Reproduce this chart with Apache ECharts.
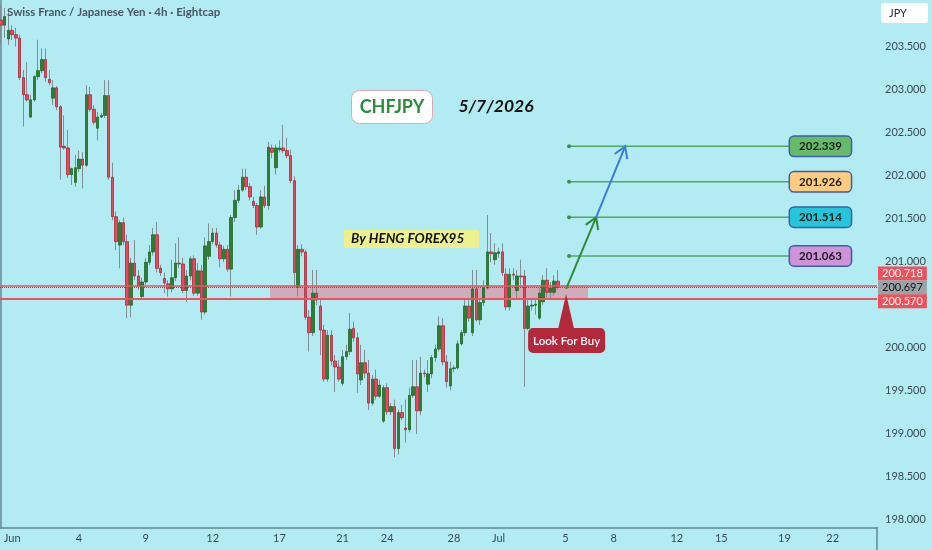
<!DOCTYPE html>
<html><head><meta charset="utf-8">
<script src="https://cdn.jsdelivr.net/npm/echarts@6/dist/echarts.min.js"></script>
<style>html,body{margin:0;padding:0;background:#b2ebf2}#c{width:932px;height:550px}</style>
</head><body><div id="c"></div>
<script>
// ---- data (prices) ----
const opens = [203.81,203.75,203.59,203.69,203.64,203.60,203.14,202.94,202.68,202.88,
203.15,203.22,203.35,203.12,202.90,203.02,202.80,202.34,202.32,202.01,
201.92,202.08,202.19,202.12,202.94,202.77,202.55,202.68,202.70,202.93,
201.98,201.52,201.19,201.45,201.23,200.49,200.98,200.83,200.59,200.76,
200.99,201.11,201.31,200.92,200.80,200.74,200.68,200.81,200.98,200.97,
200.66,200.83,201.03,200.63,200.89,200.41,201.06,201.23,201.33,201.19,
201.03,201.14,200.91,201.51,201.71,201.83,201.98,201.87,201.70,201.65,
201.40,201.75,201.65,202.32,202.09,202.30,202.32,202.29,202.23,201.94,
200.70,201.14,201.11,200.35,200.17,200.63,200.48,200.20,199.63,200.14,
199.84,199.77,199.58,199.89,199.95,200.22,200.11,199.62,199.82,199.70,
199.35,199.63,199.43,199.14,199.53,199.25,199.31,198.82,199.24,199.06,
199.04,199.44,199.54,199.26,199.70,199.57,199.69,199.88,199.98,200.25,
199.83,199.55,199.75,199.76,200.04,200.17,200.48,200.17,200.68,200.32,
200.52,200.69,201.11,201.02,201.09,201.11,200.85,200.47,200.85,200.66,
200.83,200.83,200.22,200.48,200.49,200.34,200.53,200.78,200.64,200.64,
200.77];
const closes = [203.75,203.85,203.69,203.64,203.60,203.14,202.94,202.88,202.88,203.15,
203.22,203.35,203.14,203.08,203.02,202.80,202.33,202.32,202.01,202.08,
202.09,202.19,202.12,202.94,202.77,202.62,202.68,202.70,202.93,201.98,
201.52,201.23,201.45,201.23,200.49,200.98,200.83,200.71,200.76,200.99,
201.11,201.31,200.92,200.87,200.75,200.68,200.81,200.98,200.97,200.66,
200.83,201.03,200.63,200.89,200.41,201.18,201.23,201.33,201.19,201.03,
201.14,200.91,201.51,201.71,201.83,201.98,201.87,201.75,201.65,201.40,
201.75,201.65,202.33,202.27,202.32,202.32,202.29,202.23,201.94,200.87,
201.14,201.11,200.35,200.17,200.63,200.55,200.20,199.63,200.14,199.84,
199.77,199.63,199.89,199.95,200.21,200.11,199.69,199.82,199.70,199.35,
199.63,199.43,199.56,199.53,199.25,199.31,198.82,199.24,199.18,199.04,
199.44,199.54,199.26,199.70,199.69,199.69,199.88,199.98,200.25,199.83,
199.60,199.75,199.76,200.04,200.17,200.48,200.34,200.68,200.32,200.52,
200.69,201.11,201.09,201.10,201.11,200.87,200.47,200.85,200.84,200.83,
200.82,200.22,200.48,200.49,200.50,200.63,200.78,200.64,200.69,200.77,
200.697];
const lows = [203.52,203.60,203.52,203.58,203.50,203.11,202.57,202.86,202.67,202.86,
203.11,203.19,203.09,203.05,202.82,202.76,201.95,202.30,201.97,201.89,
201.87,202.04,201.85,202.10,202.74,202.59,202.41,202.67,202.67,201.95,
201.48,201.13,200.92,201.19,200.34,200.35,200.78,200.67,200.55,200.72,
200.96,201.07,200.87,200.83,200.63,200.59,200.64,200.77,200.92,200.63,
200.53,200.78,200.60,200.60,200.32,200.38,201.02,201.20,201.16,200.93,
200.99,200.88,200.59,201.46,201.68,201.81,201.83,201.71,201.62,201.31,
201.38,201.62,201.60,202.20,202.01,202.27,202.26,202.20,201.91,200.70,
200.59,201.06,200.32,199.95,200.13,200.49,199.91,199.60,199.60,199.79,
199.48,199.60,199.55,199.85,199.91,200.06,199.47,199.56,199.64,199.27,
199.32,199.39,199.41,199.12,199.21,199.21,198.72,198.75,199.15,198.89,
199.01,199.41,198.99,199.21,199.65,199.48,199.64,199.83,199.95,199.79,
199.53,199.50,199.71,199.74,200.02,200.13,200.30,200.13,200.30,200.26,
200.48,200.67,200.99,200.96,201.04,200.83,200.43,200.43,200.78,200.57,
200.72,199.54,200.20,200.43,200.38,200.32,200.49,200.55,200.55,200.60,
200.67];
const highs = [203.98,203.95,203.90,203.75,203.72,203.64,203.23,203.32,202.94,203.17,
203.58,203.48,203.48,203.23,203.11,203.04,202.82,202.70,202.53,202.09,
202.24,202.29,202.27,203.05,203.03,202.82,202.74,202.73,203.11,203.11,
202.15,201.58,201.48,201.51,201.31,201.04,201.25,200.90,200.81,201.04,
201.19,201.39,201.46,200.96,200.87,200.78,201.02,201.21,201.28,201.04,
200.90,201.06,201.07,200.98,200.96,201.28,201.44,201.39,201.39,201.23,
201.18,201.19,201.54,201.83,201.89,202.08,202.08,201.91,201.75,201.68,
201.83,201.88,202.39,202.36,202.36,202.41,202.59,202.44,202.30,201.99,
201.19,201.20,201.13,200.43,200.90,200.90,200.55,200.26,200.20,200.20,
199.91,199.85,199.97,200.03,200.40,200.30,200.17,200.03,199.97,199.85,
199.68,199.74,199.62,199.56,199.58,199.35,199.39,199.27,199.33,199.39,
199.53,199.85,199.85,199.89,199.74,199.85,199.91,200.03,200.36,200.34,
199.91,199.83,199.79,200.08,200.20,200.55,200.57,200.90,200.90,200.57,
200.78,201.54,201.33,201.21,201.16,201.21,200.92,200.92,200.92,200.90,
201.02,200.90,200.55,200.55,200.57,200.69,200.84,200.92,200.76,200.84,
200.90];
const tickIdx = [3,21,39,57,75,92,104,122,134,152,165,182,194,211,224];
const tickLabels = ['Jun','4','9','12','17','21','24','28','Jul','5','8','12','15','19','22'];
const zoneLow = 200.570, zoneHigh = 200.718, zoneFrom = 72.45, zoneTo = 158.1;
const lastPrice = 200.697;
const targets = [202.339, 201.926, 201.514, 201.063];
const targetFrom = 153, targetTo = 212.5;
const arrows = [[152.2, 200.68, 160.3, 201.514], [160.3, 201.514, 168.1, 202.339]];
const callout = [152.2, 200.62];

// ---- styles ----
const targetFills = ['#66bb6a', '#ffcc80', '#26c6da', '#ce93d8'];
const arrowColors = ['#2e8b3a', '#3b7be0'];
const FONT = 'Lato, "Open Sans", sans-serif';

const wickData = opens.map((o, i) => [i, o, closes[i], lows[i], highs[i]]);
const bodyData = opens.map((o, i) => [i, o, closes[i], Math.min(o, closes[i]), Math.max(o, closes[i])]);

const chart = echarts.init(document.getElementById('c'), null, {renderer: 'canvas'});

function tagLabel(bg, fg, dy) {
  return {show: true, position: 'end', distance: 1, formatter: p => Number(p.value).toFixed(3),
    backgroundColor: bg, color: fg, padding: [1, 4, 0, 4], fontSize: 11, fontFamily: FONT,
    offset: [0, dy], lineHeight: 13};
}

const option = {
  animation: false,
  backgroundColor: '#b2ebf2',
  textStyle: {fontFamily: FONT},
  grid: {left: 0, right: 55, top: 0, bottom: 22, containLabel: false, outerBoundsMode: 'none'},
  xAxis: {
    type: 'value', min: -0.27, max: 235.93,
    axisLine: {show: true, lineStyle: {color: '#5f8b92', width: 1.5}},
    axisTick: {show: false}, splitLine: {show: false},
    axisLabel: {customValues: tickIdx, color: '#3a4a55', fontSize: 11, margin: 5,
      showMinLabel: true, showMaxLabel: true, hideOverlap: false,
      formatter: v => { const k = tickIdx.indexOf(Math.round(v)); return k >= 0 ? tickLabels[k] : ''; }}
  },
  yAxis: {
    type: 'value', position: 'right', min: 197.896, max: 204.043,
    minInterval: 0.5, maxInterval: 0.5,
    axisLine: {show: true, lineStyle: {color: '#5f8b92', width: 1.5}},
    axisTick: {show: false}, splitLine: {show: false},
    axisLabel: {color: '#3a4a55', fontSize: 11, margin: 8,
      formatter: v => (Math.abs(v * 2 - Math.round(v * 2)) < 1e-6 && v < 203.9) ? v.toFixed(3) : ''}
  },
  series: [
    {
      type: 'candlestick', name: 'wick', data: wickData, barWidth: 1,
      encode: {x: 0, y: [1, 2, 3, 4]},
      itemStyle: {color: '#7f8e93', color0: '#7f8e93', borderColor: '#7f8e93', borderColor0: '#7f8e93', borderWidth: 1},
      silent: true,
      markArea: {silent: true, itemStyle: {color: 'rgba(245,80,100,0.40)'},
        data: [[{coord: [zoneFrom, zoneLow]}, {coord: [zoneTo, zoneHigh]}]]},
      markLine: {silent: true, symbol: ['none', 'none'], animation: false, precision: 3,
        data: [
          {yAxis: zoneHigh, lineStyle: {color: '#f0505f', width: 1.5, type: 'solid'}, label: tagLabel('#f0505a', '#ffffff', -12)},
          {yAxis: lastPrice, lineStyle: {color: '#56656b', width: 1, type: 'dotted'}, label: tagLabel('#9aa3a7', '#111111', 0)},
          {yAxis: zoneLow, lineStyle: {color: '#f0505f', width: 1.8, type: 'solid'}, label: tagLabel('#f0505a', '#ffffff', 3)}
        ]}
    },
    {
      type: 'candlestick', name: 'body', data: bodyData, barWidth: 3,
      encode: {x: 0, y: [1, 2, 3, 4]},
      itemStyle: {color: '#2e7d32', color0: '#e8485a', borderColor: '#1f6a27', borderColor0: '#a82a38', borderWidth: 0.8},
      silent: true
    },
    ...targets.map((p, k) => ({
      type: 'line', silent: true, z: 5,
      lineStyle: {color: '#4ea863', width: 1.5},
      itemStyle: {color: '#3a8f4a'},
      data: [
        {value: [targetFrom, p], symbol: 'circle', symbolSize: 4},
        {value: [targetTo, p], symbol: 'circle', symbolSize: 0.1,
          label: {show: true, position: 'right', distance: 0, formatter: p.toFixed(3),
            backgroundColor: targetFills[k], borderColor: '#3d5da8', borderWidth: 1.5, borderRadius: 4,
            padding: [3, 9, 3, 9], lineHeight: 13, fontSize: 11.5, fontWeight: 'bold', color: '#1b1b1b', fontFamily: FONT}}
      ]
    })),
    {
      type: 'custom', silent: true, clip: false, z: 6,
      encode: {x: [0, 2], y: [1, 3]},
      data: arrows,
      renderItem: (params, api) => {
        const p0 = api.coord([api.value(0), api.value(1)]);
        const p1 = api.coord([api.value(2), api.value(3)]);
        const ang = Math.atan2(p1[1] - p0[1], p1[0] - p0[0]);
        const L = 13, a = 0.55;
        const h1 = [p1[0] - L * Math.cos(ang - a), p1[1] - L * Math.sin(ang - a)];
        const h2 = [p1[0] - L * Math.cos(ang + a), p1[1] - L * Math.sin(ang + a)];
        const c = arrowColors[params.dataIndex];
        return {type: 'group', children: [
          {type: 'line', shape: {x1: p0[0], y1: p0[1], x2: p1[0], y2: p1[1]}, style: {stroke: c, lineWidth: 2}},
          {type: 'polyline', shape: {points: [h1, p1, h2]}, style: {stroke: c, lineWidth: 2, fill: null}}
        ]};
      }
    }
  ]
};
chart.setOption(option);

const apex = chart.convertToPixel({gridIndex: 0}, callout);
chart.setOption({graphic: [
  {type: 'text', left: 7, top: 6, z: 100, style: {text: 'Swiss Franc / Japanese Yen · 4h · Eightcap', fill: '#4a5561', font: 'bold 11.5px ' + FONT}},
  {type: 'rect', z: 100, shape: {x: 881, y: 3, width: 47, height: 20, r: 3}, style: {fill: '#ffffff'}},
  {type: 'text', z: 101, x: 889, y: 13, style: {text: 'JPY', fill: '#2a2e39', font: '11px ' + FONT, verticalAlign: 'middle'}},
  {type: 'line', z: 100, shape: {x1: 877, y1: 527, x2: 877, y2: 550}, style: {stroke: '#5f8b92', lineWidth: 1.5}},
  {type: 'rect', z: 100, shape: {x: 351.5, y: 90.5, width: 81, height: 33, r: 8}, style: {fill: '#ffffff', stroke: '#d9a9bb', lineWidth: 1}},
  {type: 'text', z: 101, x: 392, y: 107, style: {text: 'CHFJPY', fill: '#2e8b3f', font: 'bold 18px ' + FONT, align: 'center', verticalAlign: 'middle'}},
  {type: 'text', z: 101, x: 496, y: 106, style: {text: '5/7/2026', fill: '#111111', font: 'italic bold 17.5px ' + FONT, align: 'center', verticalAlign: 'middle'}},
  {type: 'rect', z: 100, shape: {x: 344, y: 230, width: 135, height: 18}, style: {fill: '#eef08e'}},
  {type: 'text', z: 101, x: 351, y: 239, style: {text: 'By HENG FOREX95', fill: '#111111', font: 'italic bold 13.5px ' + FONT, verticalAlign: 'middle'}},
  {type: 'polygon', z: 100, shape: {points: [[apex[0] - 8, apex[1] + 35], [apex[0] + 8, apex[1] + 35], [apex[0], apex[1]]]}, style: {fill: '#b3283a'}},
  {type: 'rect', z: 100, shape: {x: apex[0] - 38, y: apex[1] + 34, width: 77, height: 25, r: 5}, style: {fill: '#b3283a'}},
  {type: 'text', z: 101, x: apex[0] + 0.5, y: apex[1] + 47, style: {text: 'Look For Buy', fill: '#ffffff', font: '600 11.5px ' + FONT, align: 'center', verticalAlign: 'middle'}}
]});
</script>
</body></html>
